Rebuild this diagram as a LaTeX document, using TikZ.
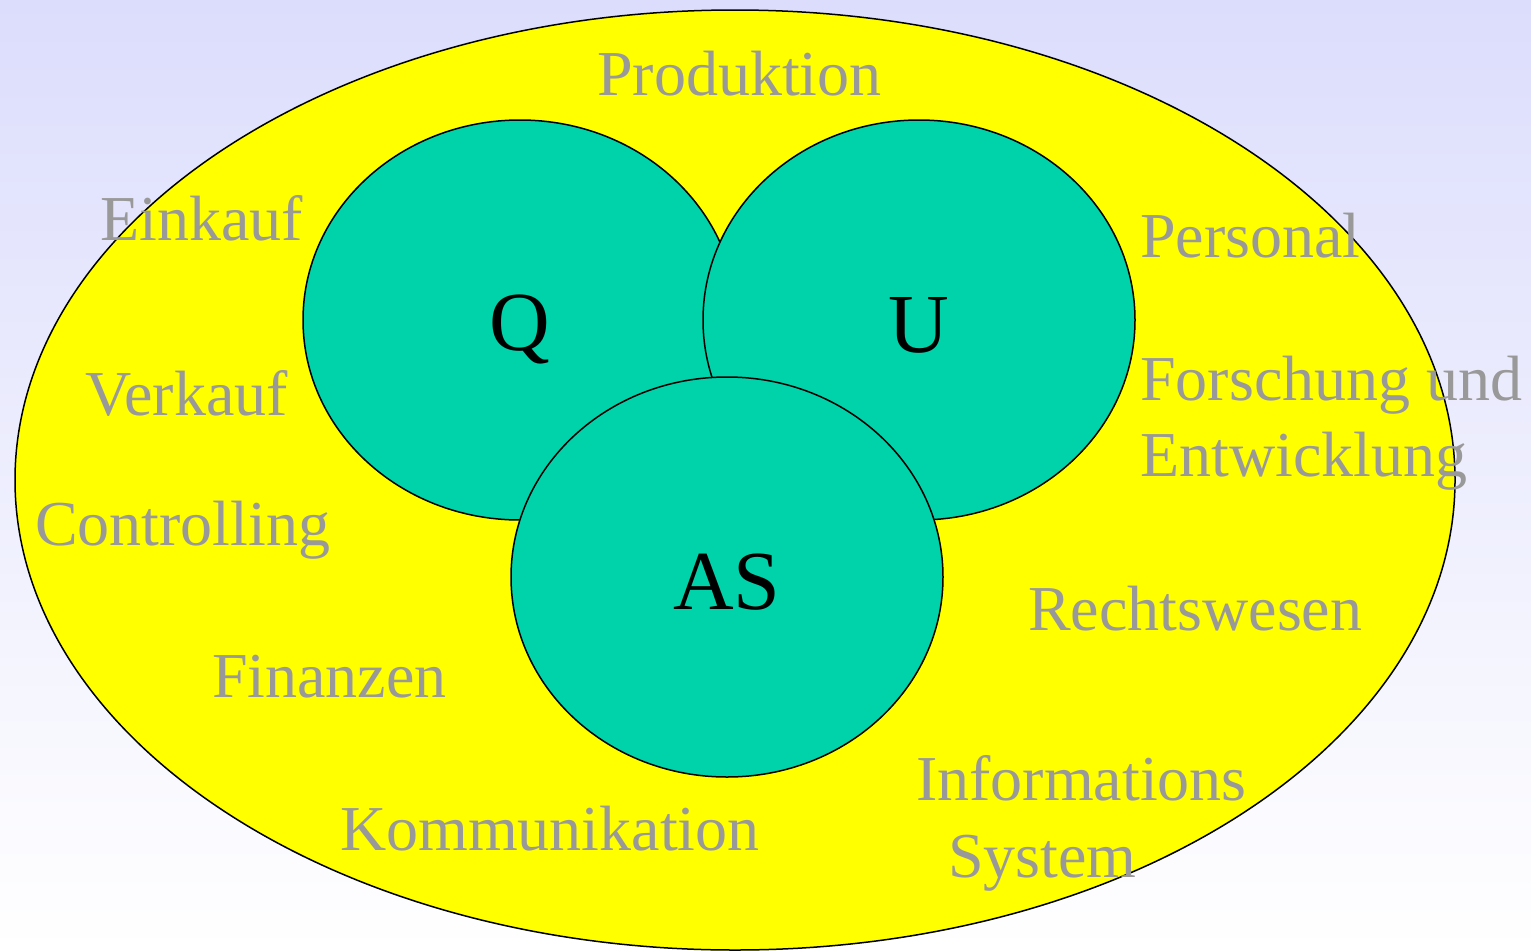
\documentclass[tikz,border=0pt]{standalone}
\usepackage{fontspec}
\setmainfont{Liberation Serif}
\definecolor{bgtop}{RGB}{220,221,252}
\definecolor{txtgray}{RGB}{153,153,153}
\definecolor{teal}{RGB}{0,210,170}
\definecolor{yel}{RGB}{255,255,0}
\tikzset{
  lbl/.style={anchor=base west, inner sep=0pt, text=txtgray, font=\fontsize{64}{76}\selectfont},
  big/.style={anchor=base, inner sep=0pt, text=black, font=\fontsize{84}{100}\selectfont},
  circ/.style={draw=black, line width=1.5pt, fill=teal}
}
\begin{document}
\begin{tikzpicture}[x=1pt,y=-1pt]
\useasboundingbox (0,0) rectangle (1531,951);
\shade[top color=bgtop, bottom color=white] (0,0) rectangle (1531,951);
\draw[fill=yel, line width=1.5pt] (735,480) ellipse [x radius=720, y radius=470];
\draw[circ] (520,320) ellipse [x radius=217, y radius=200];
\draw[circ] (919,320) ellipse [x radius=216, y radius=200];
\draw[circ] (727,577) ellipse [x radius=216, y radius=200];
\node[big] (q) at (520,350) {Q};
\node[big] (u) at (919,352) {U};
\node[big] (as) at (727,609) {AS};
\node[lbl] (prod) at (597,95) {Produktion};
\node[lbl] (eink) at (100,240) {Einkauf};
\node[lbl] (pers) at (1140,257) {Personal};
\node[lbl] (verk) at (85,415) {Verkauf};
\node[lbl] (fors) at (1140,400) {Forschung und};
\node[lbl] (entw) at (1140,476) {Entwicklung};
\node[lbl] (cont) at (35,545) {Controlling};
\node[lbl] (recht) at (1028,630) {Rechtswesen};
\node[lbl] (fin) at (212,697) {Finanzen};
\node[lbl] (info) at (916,800) {Informations};
\node[lbl] (sys) at (948,877) {System};
\node[lbl] (komm) at (340,850) {Kommunikation};
\end{tikzpicture}
\end{document}
